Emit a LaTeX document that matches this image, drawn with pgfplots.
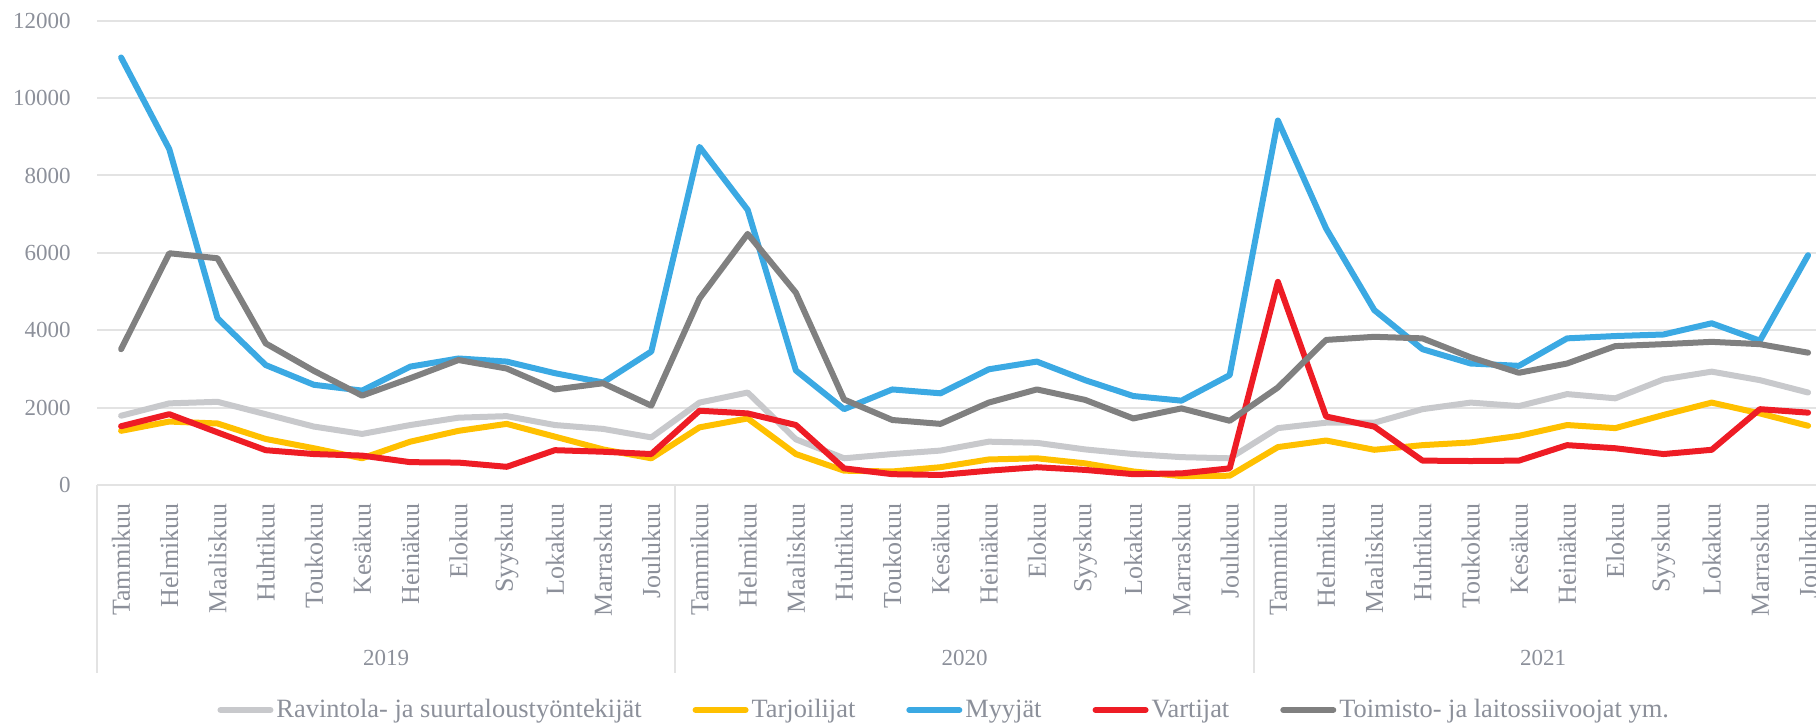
\documentclass[border=0pt]{standalone}
\usepackage{fontspec}
\setmainfont{Liberation Serif}
\usepackage{pgfplots}
\usepackage{pgfplotstable}
\pgfplotsset{compat=1.18}

\definecolor{ravintola}{HTML}{C8C9CC}
\definecolor{tarjoilijat}{HTML}{FFC000}
\definecolor{myyjat}{HTML}{3BA9E3}
\definecolor{vartijat}{HTML}{EE1C25}
\definecolor{toimisto}{HTML}{808080}
\definecolor{gridc}{HTML}{E3E3E3}
\definecolor{textc}{HTML}{8C909A}

% month index, then one column per occupation
\pgfplotstableread{
x  rav  tar  myy   var  toi
0  1790 1400 11050 1520 3510
1  2110 1640 8680  1830 5990
2  2150 1590 4310  1360 5860
3  1830 1190 3100  900  3660
4  1510 950  2590  800  2950
5  1320 690  2440  760  2310
6  1550 1120 3060  590  2760
7  1740 1400 3270  580  3230
8  1780 1580 3190  470  3010
9  1550 1250 2890  900  2470
10 1450 920  2650  860  2630
11 1230 690  3450  800  2050
12 2130 1490 8740  1920 4820
13 2390 1720 7110  1850 6490
14 1180 800  2960  1550 4970
15 690  370  1960  430  2210
16 800  350  2470  280  1680
17 890  460  2370  260  1580
18 1120 660  2990  370  2130
19 1090 690  3190  460  2470
20 920  560  2710  390  2200
21 800  350  2300  280  1720
22 720  230  2180  300  1980
23 690  240  2840  430  1660
24 1470 980  9420  5250 2520
25 1610 1150 6630  1770 3750
26 1610 910  4520  1510 3830
27 1960 1030 3510  630  3790
28 2130 1100 3140  620  3300
29 2040 1270 3080  630  2900
30 2350 1550 3790  1030 3140
31 2240 1470 3850  950  3590
32 2730 1810 3890  800  3640
33 2930 2130 4180  910  3700
34 2710 1850 3730  1960 3640
35 2390 1530 5940  1870 3420
}\data

\begin{document}
\begin{tikzpicture}
\path[use as bounding box] (-48.5pt,-119.5pt) rectangle (859.5pt,242.5pt);
\begin{axis}[
    at={(0,0)}, anchor=south west,
    scale only axis,
    width=867.6pt, height=232.15pt,
    xmin=-0.5, xmax=35.5,
    ymin=0, ymax=12000,
    ytick={0,2000,...,12000},
    xtick={0,...,35},
    xticklabels={Tammikuu,Helmikuu,Maaliskuu,Huhtikuu,Toukokuu,Kesäkuu,Heinäkuu,Elokuu,Syyskuu,Lokakuu,Marraskuu,Joulukuu,
                 Tammikuu,Helmikuu,Maaliskuu,Huhtikuu,Toukokuu,Kesäkuu,Heinäkuu,Elokuu,Syyskuu,Lokakuu,Marraskuu,Joulukuu,
                 Tammikuu,Helmikuu,Maaliskuu,Huhtikuu,Toukokuu,Kesäkuu,Heinäkuu,Elokuu,Syyskuu,Lokakuu,Marraskuu,Joulukuu},
    scaled y ticks=false,
    /pgf/number format/1000 sep={},
    /pgf/number format/assume math mode=true,
    ymajorgrids,
    grid style={line width=1pt, gridc},
    axis line style={draw=none},
    major tick length=0pt,
    clip=false,
    xticklabel style={yshift=-9pt, rotate=90, anchor=east, inner sep=0pt,
        font=\fontsize{13}{15}\selectfont, text=textc},
    yticklabel style={anchor=east, inner sep=0pt, xshift=-13pt,
        font=\fontsize{11.5}{13}\selectfont, text=textc},
    every axis plot/.append style={line width=3pt, line join=round, line cap=round, no markers},
    legend image code/.code={\draw[#1, line width=3pt, line cap=round] (0pt,0pt) -- (25pt,0pt);},
    legend style={draw=none, fill=none, at={(rel axis cs:0.0692,-0.4846)}, anchor=west,
        legend columns=-1, font=\fontsize{13.2}{15}\selectfont, text=textc,
        inner sep=0pt,
        nodes={inner xsep=1.5pt, inner ysep=0pt},
        /tikz/every even column/.append style={column sep=24pt}},
    legend cell align=left,
]
\addplot[ravintola] table[x=x, y=rav] {\data};
\addlegendentry{Ravintola- ja suurtaloustyöntekijät}
\addplot[tarjoilijat] table[x=x, y=tar] {\data};
\addlegendentry{Tarjoilijat}
\addplot[myyjat] table[x=x, y=myy] {\data};
\addlegendentry{Myyjät}
\addplot[vartijat] table[x=x, y=var] {\data};
\addlegendentry{Vartijat}
\addplot[toimisto] table[x=x, y=toi] {\data};
\addlegendentry{Toimisto- ja laitossiivoojat ym.}

% year group separators and labels
\draw[gridc, line width=1pt] (axis cs:-0.5,0) -- ++(0pt,-94pt);
\draw[gridc, line width=1pt] (axis cs:11.5,0) -- ++(0pt,-94pt);
\draw[gridc, line width=1pt] (axis cs:23.5,0) -- ++(0pt,-94pt);
\node[font=\fontsize{11.5}{13}\selectfont, text=textc] at (axis cs:5.5,0) [yshift=-86.5pt] {2019};
\node[font=\fontsize{11.5}{13}\selectfont, text=textc] at (axis cs:17.5,0) [yshift=-86.5pt] {2020};
\node[font=\fontsize{11.5}{13}\selectfont, text=textc] at (axis cs:29.5,0) [yshift=-86.5pt] {2021};
\end{axis}
\end{tikzpicture}
\end{document}
